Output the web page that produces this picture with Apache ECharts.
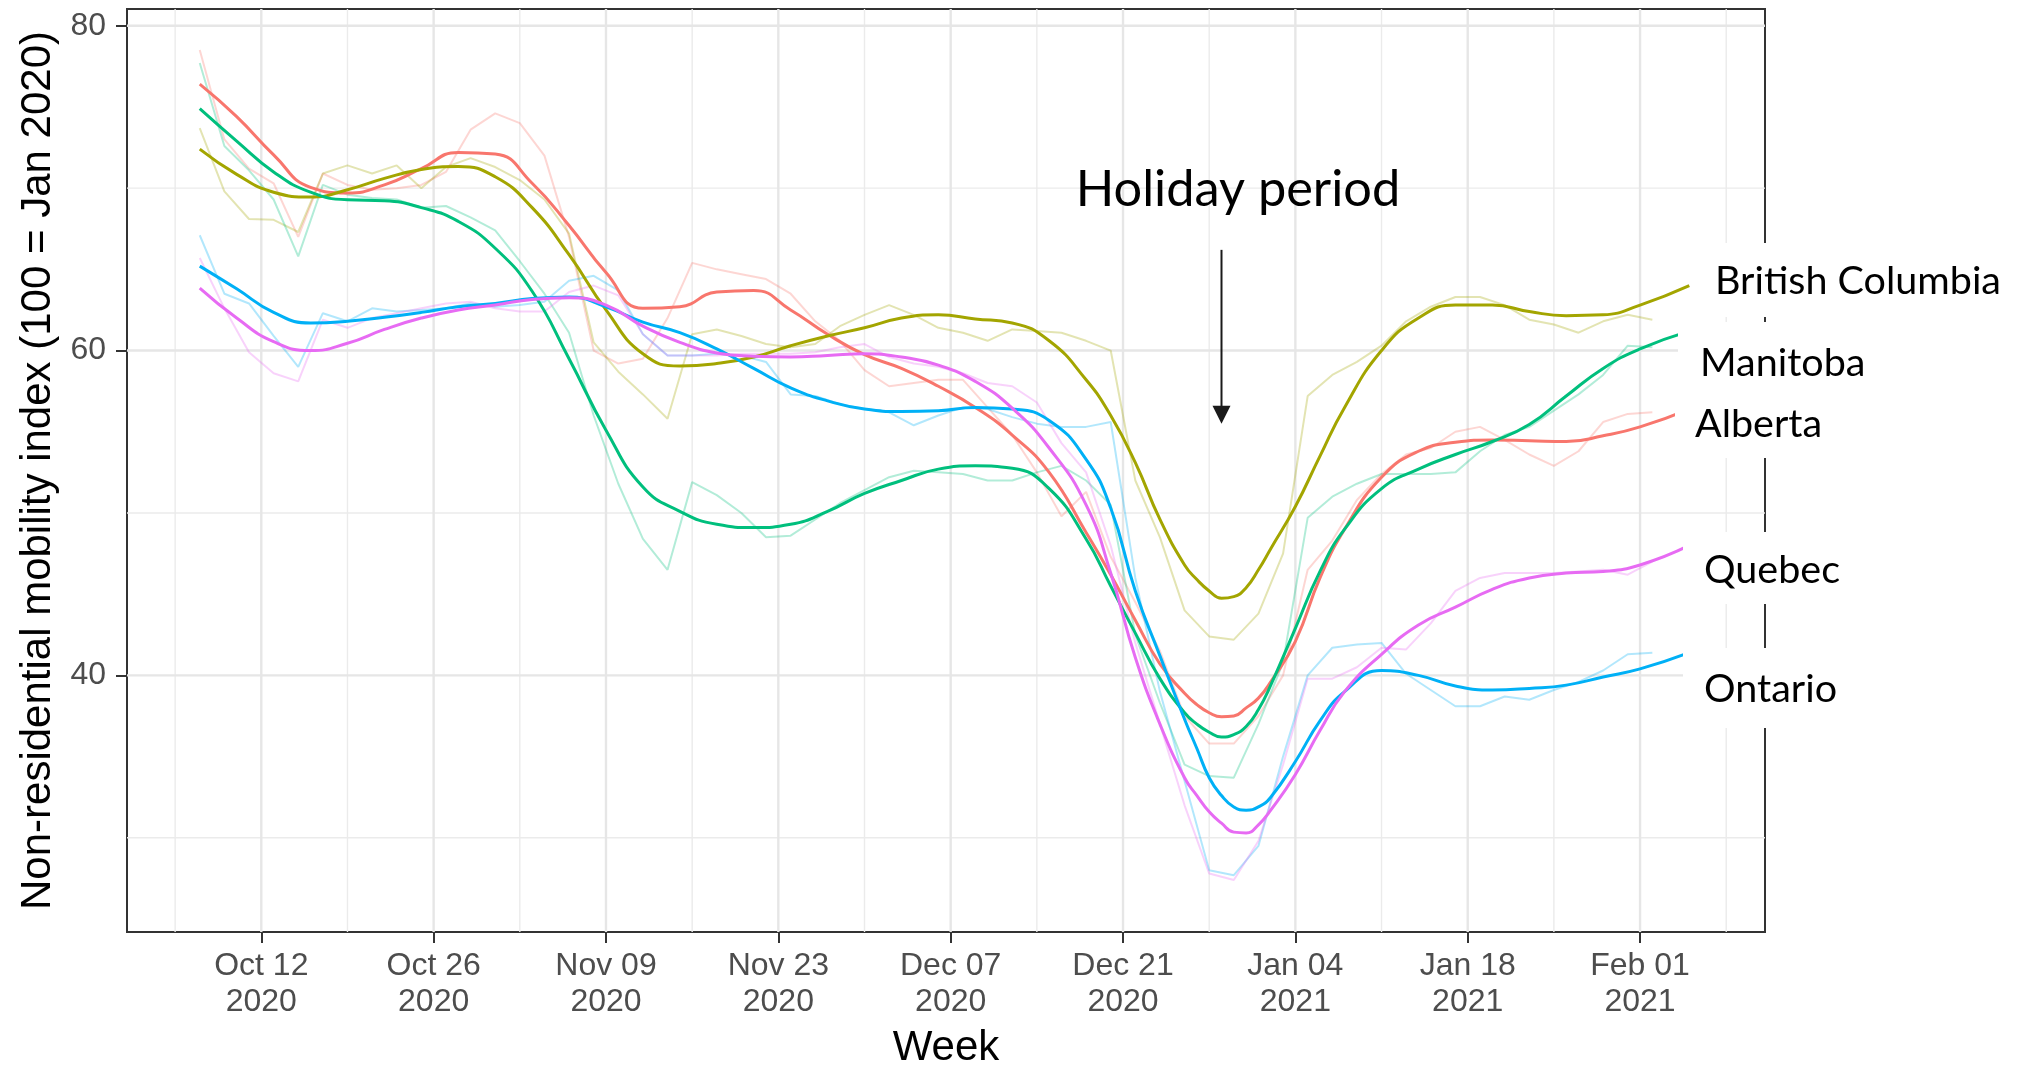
<!DOCTYPE html>
<html>
<head>
<meta charset="utf-8">
<script src="https://cdn.jsdelivr.net/npm/echarts@6/dist/echarts.min.js"></script>
<style>
html,body{margin:0;padding:0;background:#fff;}
#chart{width:2018px;height:1066px;}
</style>
</head>
<body>
<div id="chart"></div>
<script>
// provinces, ggplot hue colours
var provinces = ['Alberta', 'British Columbia', 'Manitoba', 'Ontario', 'Quebec'];
var colors = ['#F8766D', '#A3A500', '#00BF7D', '#00B0F6', '#E76BF3'];

// daily index (7 day average), every 2nd day
var rawDates = ['2020-10-07','2020-10-09','2020-10-11','2020-10-13','2020-10-15','2020-10-17','2020-10-19','2020-10-21','2020-10-23','2020-10-25',
  '2020-10-27','2020-10-29','2020-10-31','2020-11-02','2020-11-04','2020-11-06','2020-11-08','2020-11-10','2020-11-12','2020-11-14',
  '2020-11-16','2020-11-18','2020-11-20','2020-11-22','2020-11-24','2020-11-26','2020-11-28','2020-11-30','2020-12-02','2020-12-04',
  '2020-12-06','2020-12-08','2020-12-10','2020-12-12','2020-12-14','2020-12-16','2020-12-18','2020-12-20','2020-12-22','2020-12-24',
  '2020-12-26','2020-12-28','2020-12-30','2021-01-01','2021-01-03','2021-01-05','2021-01-07','2021-01-09','2021-01-11','2021-01-13',
  '2021-01-15','2021-01-17','2021-01-19','2021-01-21','2021-01-23','2021-01-25','2021-01-27','2021-01-29','2021-01-31','2021-02-02'];
var rawAlberta = [78.5,73.0,71.2,70.3,67.0,70.9,70.2,69.9,70.0,70.2,
  71.0,73.6,74.6,74.0,72.0,67.0,60.0,59.2,59.5,62.0,
  65.4,65.0,64.7,64.4,63.5,61.8,60.6,58.8,57.8,58.0,
  58.2,58.2,56.5,54.8,52.5,49.8,51.3,47.3,44.5,41.5,
  37.5,35.8,35.8,37.5,40.0,46.5,48.3,50.8,52.4,53.6,
  54.0,55.0,55.3,54.5,53.6,52.9,53.8,55.6,56.1,56.2];
var rawBC = [73.7,69.8,68.1,68.05,67.3,70.9,71.4,70.9,71.4,70.0,
  71.3,71.85,71.3,70.5,69.3,67.2,60.5,58.7,57.3,55.8,
  61.0,61.3,60.9,60.4,60.2,60.4,61.5,62.2,62.8,62.2,
  61.4,61.1,60.6,61.3,61.2,61.1,60.6,60.0,52.0,48.5,
  44.0,42.4,42.2,43.8,47.5,57.2,58.5,59.3,60.3,61.8,
  62.7,63.3,63.3,62.8,61.9,61.6,61.1,61.8,62.2,61.9];
var rawManitoba = [77.7,72.6,71.1,69.3,65.8,70.2,69.6,69.4,69.3,68.8,
  68.9,68.2,67.4,65.5,63.5,61.1,56.0,51.8,48.4,46.5,
  51.9,51.1,50.0,48.5,48.6,49.6,50.6,51.4,52.2,52.6,
  52.5,52.4,52.0,52.0,52.5,52.9,52.0,50.5,42.5,38.3,
  34.5,33.8,33.7,37.0,40.8,49.7,51.0,51.8,52.4,52.4,
  52.4,52.5,53.8,54.8,55.3,56.3,57.3,58.5,60.3,60.2];
var rawOntario = [67.1,63.5,62.9,60.9,59.0,62.3,61.8,62.6,62.4,62.5,
  62.6,62.9,62.7,62.8,63.0,64.3,64.6,63.7,61.0,59.7,
  59.7,59.8,59.7,59.3,57.3,57.2,56.7,56.4,56.2,55.4,
  56.0,56.5,56.4,55.9,55.5,55.3,55.3,55.6,46.0,39.0,
  33.5,28.0,27.7,29.5,35.0,40.0,41.7,41.9,42.0,40.1,
  39.1,38.1,38.1,38.7,38.5,39.1,39.6,40.3,41.3,41.4];
var rawQuebec = [65.7,62.6,59.9,58.6,58.1,61.9,61.4,62.0,62.3,62.6,
  62.9,63.0,62.6,62.4,62.4,63.6,64.0,63.4,61.0,59.7,
  59.7,59.7,59.8,59.8,59.8,59.9,60.2,60.4,59.6,59.2,
  59.0,58.6,58.0,57.8,56.8,54.3,52.5,48.0,42.0,37.0,
  32.0,27.8,27.4,29.8,34.5,39.8,39.8,40.5,41.7,41.6,
  43.2,45.2,46.0,46.3,46.3,46.3,46.4,46.5,46.2,47.0];

// smoothed trend (denser over the holiday dip)
var smoothDates = ['2020-10-07','2020-10-10','2020-10-13','2020-10-16','2020-10-19','2020-10-22','2020-10-25','2020-10-28','2020-10-31','2020-11-03',
  '2020-11-06','2020-11-09','2020-11-12','2020-11-15','2020-11-18','2020-11-21','2020-11-24','2020-11-27','2020-11-30','2020-12-03',
  '2020-12-06','2020-12-09','2020-12-12','2020-12-15','2020-12-18','2020-12-20','2020-12-22','2020-12-24','2020-12-26','2020-12-27',
  '2020-12-28','2020-12-29','2020-12-30','2020-12-31','2021-01-01','2021-01-02','2021-01-04','2021-01-06','2021-01-08','2021-01-11',
  '2021-01-14','2021-01-17','2021-01-20','2021-01-23','2021-01-26','2021-01-29','2021-02-01','2021-02-05'];
var smoothAlberta = [76.4,74.4,72.05,70.05,69.7,70.2,71.2,72.2,72.1,70.3,
  67.7,64.8,62.6,62.7,63.6,63.7,62.5,61.0,59.75,58.9,
  57.8,56.5,54.8,52.5,48.8,46.2,43.4,40.7,38.9,38.2,
  37.7,37.45,37.5,38.0,38.6,39.6,42.1,46.0,49.0,52.2,
  53.8,54.35,54.5,54.45,54.4,54.75,55.3,56.4];
var smoothBC = [72.4,70.85,69.75,69.45,69.9,70.6,71.15,71.33,70.7,68.8,
  65.9,62.5,59.8,59.05,59.2,59.6,60.3,60.9,61.4,62.0,
  62.2,61.95,61.7,60.6,58.2,56.0,53.1,49.6,46.8,45.9,
  45.2,44.75,44.85,45.4,46.5,47.8,50.4,53.5,56.5,60.0,
  62.0,62.8,62.8,62.4,62.15,62.2,62.8,64.0];
var smoothManitoba = [74.9,72.9,71.0,69.75,69.28,69.22,68.8,67.95,66.3,63.65,
  59.5,55.1,51.6,50.1,49.3,49.1,49.3,50.1,51.2,52.0,
  52.7,52.9,52.75,51.5,48.4,45.5,42.6,39.8,37.7,37.0,
  36.5,36.2,36.35,36.85,37.9,39.4,42.9,46.4,49.0,51.5,
  52.7,53.6,54.4,55.45,57.2,58.9,60.1,61.2];
var smoothOntario = [65.2,63.8,62.35,61.7,61.8,62.05,62.35,62.7,62.9,63.2,
  63.3,62.7,61.75,61.1,60.1,58.9,57.7,56.9,56.4,56.25,
  56.3,56.5,56.4,55.7,53.3,50.3,45.2,41.2,37.3,35.5,
  33.7,32.6,31.9,31.7,31.9,32.5,34.7,37.2,39.0,40.3,
  40.0,39.35,39.1,39.2,39.4,39.9,40.4,41.4];
var smoothQuebec = [63.84,62.0,60.55,60.0,60.45,61.3,62.0,62.5,62.8,63.15,
  63.25,62.8,61.5,60.5,59.85,59.65,59.6,59.7,59.8,59.6,
  59.1,58.1,56.45,54.0,50.5,46.3,41.1,37.0,33.7,32.6,
  31.6,30.9,30.35,30.3,30.8,31.7,33.9,36.6,39.0,41.3,
  43.1,44.2,45.3,46.0,46.3,46.4,46.8,48.0];

// axes
var tickDates = ['2020-10-12','2020-10-26','2020-11-09','2020-11-23','2020-12-07','2020-12-21','2021-01-04','2021-01-18','2021-02-01'];
var tickLabels = ['Oct 12\n2020','Oct 26\n2020','Nov 09\n2020','Nov 23\n2020','Dec 07\n2020','Dec 21\n2020','Jan 04\n2021','Jan 18\n2021','Feb 01\n2021'];
var minorDates = ['2020-10-05','2020-10-19','2020-11-02','2020-11-16','2020-11-30','2020-12-14','2020-12-28','2021-01-11','2021-01-25','2021-02-08'];
var yMajor = [40, 60, 80];
var yMinor = [30, 50, 70];

// holiday arrow
var arrowDate = '2020-12-29';
var arrowFrom = 66.2;
var arrowTo = 56.05;

function ts(s) { return Date.parse(s + 'T00:00:00Z'); }
function pairs(dates, vals) {
  return dates.map(function (d, i) { return [ts(d), vals[i]]; });
}

var xMin = Date.UTC(2020, 9, 1, 2, 10);
var xMax = Date.UTC(2021, 1, 11, 3, 36);
var yMin = 24.2, yMax = 81.03;
var tickTs = tickDates.map(ts);

function gridData(yVals, xDates) {
  var out = [];
  yVals.forEach(function (v) { out.push([xMin, v], [xMax, v], [xMax, '-']); });
  xDates.forEach(function (d) { out.push([ts(d), yMin], [ts(d), yMax], [ts(d), '-']); });
  return out;
}

var rawList = [rawAlberta, rawBC, rawManitoba, rawOntario, rawQuebec];
var smoothList = [smoothAlberta, smoothBC, smoothManitoba, smoothOntario, smoothQuebec];

var series = [
  { name: 'minor', type: 'line', data: gridData(yMinor, minorDates), symbol: 'none', silent: true, z: 0,
    lineStyle: { color: '#EBEBEB', width: 1.4 } },
  { name: 'major', type: 'line', data: gridData(yMajor, tickDates), symbol: 'none', silent: true, z: 1,
    lineStyle: { color: '#E6E6E6', width: 2.4 } }
];
provinces.forEach(function (p, i) {
  series.push({ name: p + ' raw', type: 'line', data: pairs(rawDates, rawList[i]), symbol: 'none', silent: true, z: 2,
    lineStyle: { color: colors[i], width: 2, opacity: 0.3 } });
});
provinces.forEach(function (p, i) {
  series.push({ name: p, type: 'line', data: pairs(smoothDates, smoothList[i]), symbol: 'none', smooth: 0.5, silent: true, z: 3,
    lineStyle: { color: colors[i], width: 3 } });
});
series.push({
  name: 'arrow', type: 'line', silent: true, z: 4,
  data: [
    { value: [ts(arrowDate), arrowFrom], symbol: 'none' },
    { value: [ts(arrowDate), arrowTo], symbol: 'triangle', symbolSize: [18, 18], symbolRotate: 180 }
  ],
  showSymbol: true,
  lineStyle: { color: '#1a1a1a', width: 2 },
  itemStyle: { color: '#1a1a1a' }
});

// right hand labels (text, box)
var labelFont = 'Lato';
function box(x, y, w, h) {
  return { type: 'rect', z: 100, shape: { x: x, y: y, width: w, height: h }, style: { fill: '#fff' } };
}
function txt(s, x, y, size) {
  return { type: 'text', z: 101, x: x, y: y,
    style: { text: s, fontSize: size, fontFamily: labelFont, fill: '#000',
      align: 'left', verticalAlign: 'middle', textAlign: 'left', textVerticalAlign: 'middle' } };
}

var chart = echarts.init(document.getElementById('chart'));
chart.setOption({
  animation: false,
  backgroundColor: '#fff',
  grid: { left: 127, right: 253, top: 9, bottom: 134, containLabel: false, outerBoundsMode: 'none',
    show: true, borderColor: '#333', borderWidth: 2, backgroundColor: 'transparent' },
  xAxis: {
    type: 'value', min: xMin, max: xMax,
    axisLine: { show: false, onZero: false },
    axisTick: { show: true, customValues: tickTs, length: 11, lineStyle: { color: '#333', width: 2 } },
    axisLabel: {
      customValues: tickTs, color: '#4D4D4D', fontSize: 32, fontFamily: 'Liberation Sans', lineHeight: 36, margin: 16,
      hideOverlap: false,
      formatter: function (v) { var i = tickTs.indexOf(v); return i >= 0 ? tickLabels[i] : ''; }
    },
    splitLine: { show: false },
    name: 'Week', nameLocation: 'middle', nameGap: 95,
    nameTextStyle: { fontSize: 42, color: '#000', fontFamily: 'Liberation Sans' }
  },
  yAxis: {
    type: 'value', min: yMin, max: yMax,
    axisLine: { show: false },
    axisTick: { show: true, customValues: yMajor, length: 11, lineStyle: { color: '#333', width: 2 } },
    axisLabel: { customValues: yMajor, color: '#4D4D4D', fontSize: 32, fontFamily: 'Liberation Sans', margin: 21 },
    splitLine: { show: false },
    name: 'Non-residential mobility index (100 = Jan 2020)', nameLocation: 'middle', nameRotate: 90, nameGap: 68,
    nameTextStyle: { fontSize: 42, color: '#000', fontFamily: 'Liberation Sans' }
  },
  series: series,
  graphic: { elements: [
    box(1693, 243, 325, 74), txt('British Columbia', 1715, 281, 39.5),
    box(1678, 322, 340, 70), txt('Manitoba', 1700, 363, 39.5),
    box(1675, 390, 343, 68), txt('Alberta', 1695, 424, 39.5),
    box(1683, 532, 335, 72), txt('Quebec', 1704, 570, 39.5),
    box(1683, 648, 335, 80), txt('Ontario', 1704, 689, 39.5),
    { type: 'text', z: 101, x: 1238, y: 190,
      style: { text: 'Holiday period', fontSize: 50.5, fontFamily: labelFont, fill: '#000',
        align: 'center', verticalAlign: 'middle', textAlign: 'center', textVerticalAlign: 'middle' } }
  ] }
});
</script>
</body>
</html>
